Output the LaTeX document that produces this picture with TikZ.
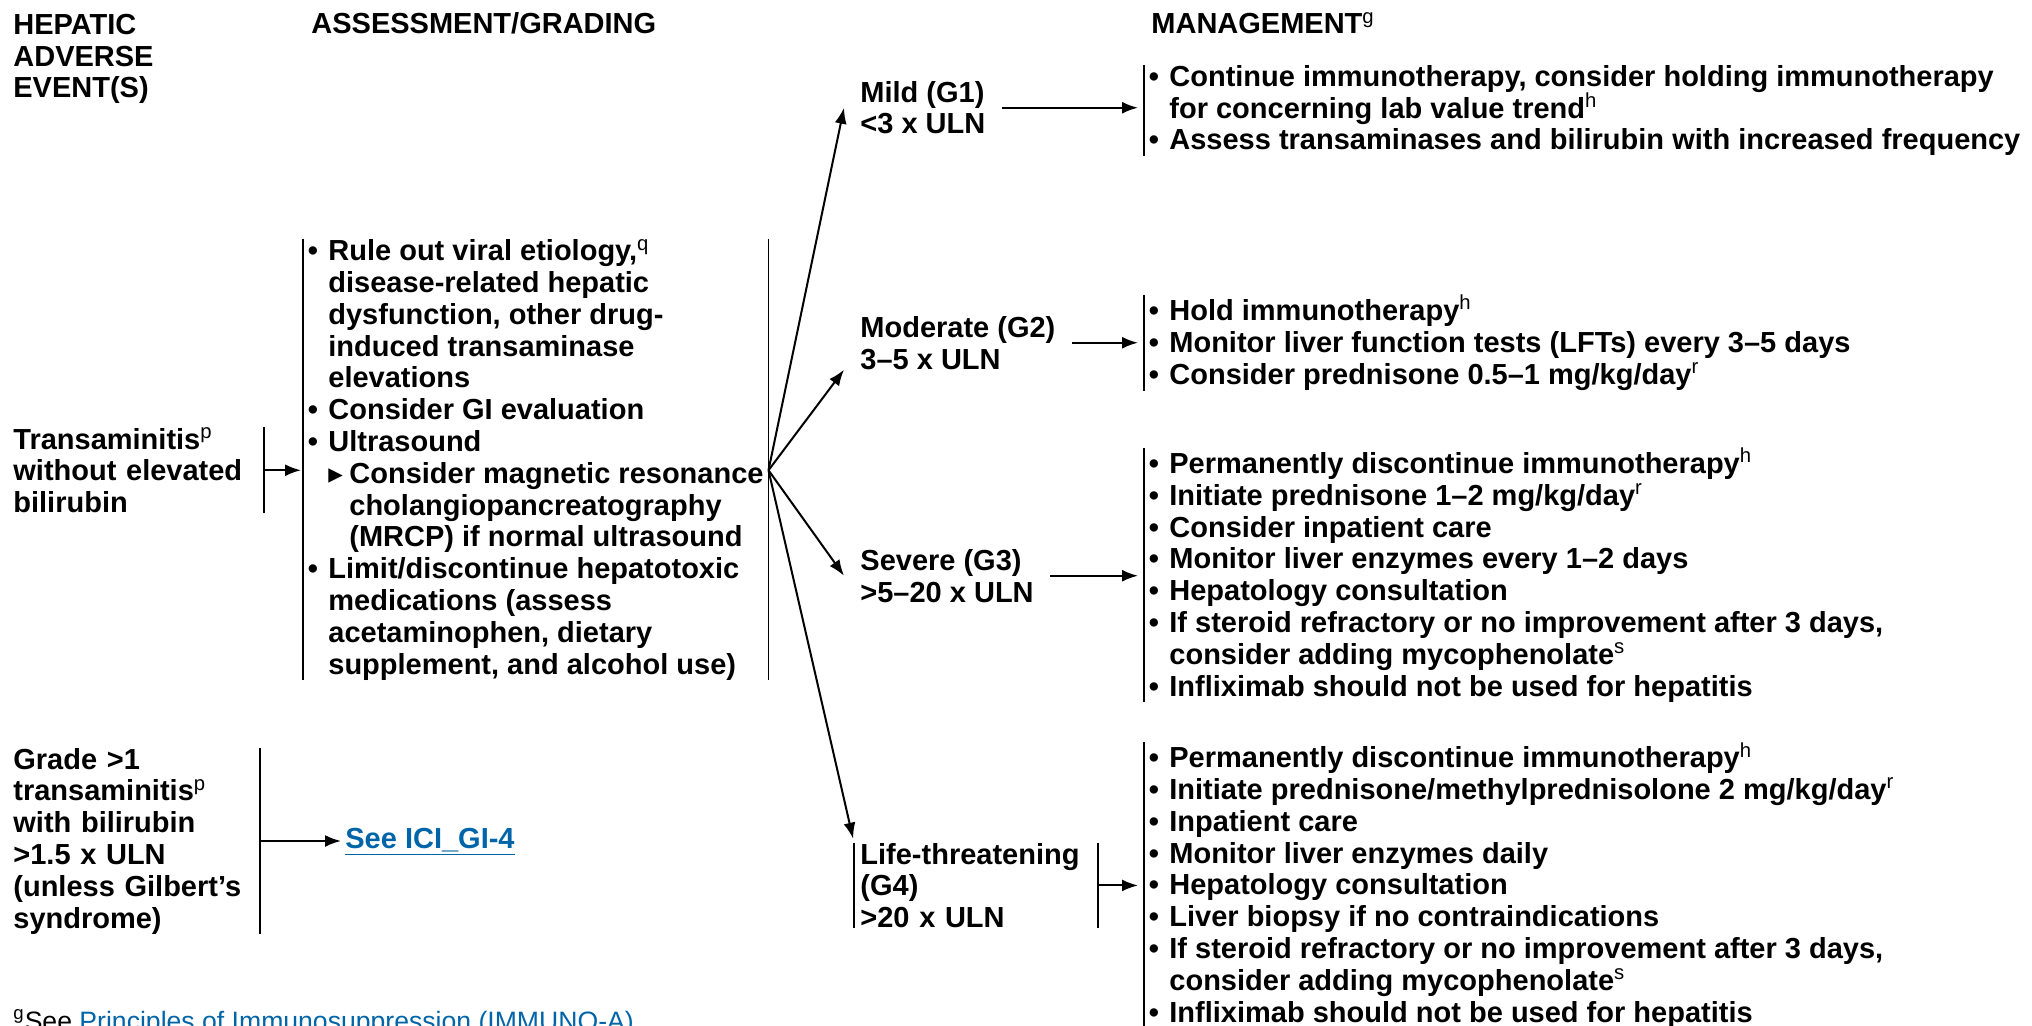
\documentclass[tikz,border=0pt]{standalone}
\usepackage{fontspec}
\setmainfont{Liberation Sans}
\newfontfamily\symfont{DejaVu Sans}
\usepackage{xcolor}
\usetikzlibrary{arrows.meta}

\definecolor{linkblue}{RGB}{0,101,168}

\newcommand{\ftn}[1]{\textsuperscript{\mdseries #1}}
\newcommand{\bl}{\makebox[10.25pt][l]{•}}
\newcommand{\ind}{\hspace*{10.25pt}}
\newcommand{\sbl}{\makebox[10.5pt][l]{\symfont ▸}}
\newcommand{\sind}{\hspace*{20.75pt}}

\tikzset{
  txt/.style={font=\fontsize{14.5}{15.9}\selectfont\bfseries, inner sep=0pt, anchor=base west, align=left},
  blk/.style={txt, text width=#1},
  arr/.style={-{Latex[length=8pt,width=6pt]}, line width=1pt},
  bar/.style={line width=0.9pt}
}

\begin{document}
\begin{tikzpicture}[x=0.5pt,y=-0.5pt]
\useasboundingbox (0,0) rectangle (2032,1026);

\node[txt] (hdrev) at (13,98) {HEPATIC\\ADVERSE\\EVENT(S)};
\node[txt] (hdras) at (311,34) {ASSESSMENT/GRADING};
\node[txt] (hdrmg) at (1151,34) {MANAGEMENT\ftn{g}};

\node[blk=125pt] (ev1) at (13,449) {Transaminitis\ftn{p}\\without elevated\\bilirubin};
\node[blk=123pt] (ev2) at (13,769) {Grade >1\\transaminitis\ftn{p}\\with bilirubin\\>1.5 x ULN\\(unless Gilbert’s\\syndrome)};

\node[txt, inner xsep=2.25pt] (asm) at (303,674) {\bl Rule out viral etiology,\ftn{q}\\
  \ind disease-related hepatic\\
  \ind dysfunction, other drug-\\
  \ind induced transaminase\\
  \ind elevations\\
  \bl Consider GI evaluation\\
  \bl Ultrasound\\
  \ind\sbl Consider magnetic resonance\\
  \sind cholangiopancreatography\\
  \sind (MRCP) if normal ultrasound\\
  \bl Limit/discontinue hepatotoxic\\
  \ind medications (assess\\
  \ind acetaminophen, dietary\\
  \ind supplement, and alcohol use)};

\node[txt, inner xsep=8pt] (g1) at (844,134) {Mild (G1)\\<3 x ULN};
\node[txt, inner xsep=8pt] (g2) at (844,369) {Moderate (G2)\\3–5 x ULN};
\node[txt, inner xsep=8pt] (g3) at (844,602) {Severe (G3)\\>5–20 x ULN};
\node[blk=115.5pt, inner xsep=3pt] (g4) at (854,864) {Life-threatening\\(G4)\\>20 x ULN};

\node[txt, inner xsep=2.25pt] (m1) at (1144,150) {\bl Continue immunotherapy, consider holding immunotherapy\\
  \ind for concerning lab value trend\ftn{h}\\
  \bl Assess transaminases and bilirubin with increased frequency};
\node[txt, inner xsep=2.25pt] (m2) at (1144,384) {\bl Hold immunotherapy\ftn{h}\\
  \bl Monitor liver function tests (LFTs) every 3–5 days\\
  \bl Consider prednisone 0.5–1 mg/kg/day\ftn{r}};
\node[txt, inner xsep=2.25pt] (m3) at (1144,696) {\bl Permanently discontinue immunotherapy\ftn{h}\\
  \bl Initiate prednisone 1–2 mg/kg/day\ftn{r}\\
  \bl Consider inpatient care\\
  \bl Monitor liver enzymes every 1–2 days\\
  \bl Hepatology consultation\\
  \bl If steroid refractory or no improvement after 3 days,\\
  \ind consider adding mycophenolate\ftn{s}\\
  \bl Infliximab should not be used for hepatitis};
\node[txt, inner xsep=2.25pt] (m4) at (1144,1022) {\bl Permanently discontinue immunotherapy\ftn{h}\\
  \bl Initiate prednisone/methylprednisolone 2 mg/kg/day\ftn{r}\\
  \bl Inpatient care\\
  \bl Monitor liver enzymes daily\\
  \bl Hepatology consultation\\
  \bl Liver biopsy if no contraindications\\
  \bl If steroid refractory or no improvement after 3 days,\\
  \ind consider adding mycophenolate\ftn{s}\\
  \bl Infliximab should not be used for hepatitis};

\node[txt, inner xsep=1pt, text=linkblue] (see) at (343,848) {\underline{See ICI\_GI-4}};
\node[txt, font=\fontsize{13.3}{16}\selectfont] (foot) at (13,1030) {\ftn{g}See \textcolor{linkblue}{Principles of Immunosuppression (IMMUNO-A)}};

\draw[bar] (ev1.north east) -- (ev1.south east);
\draw[bar] (ev2.north east) -- (ev2.south east);
\draw[bar] (asm.north west) -- (asm.south west);
\draw[bar] (asm.north east) -- (asm.south east);
\draw[bar] (g4.north west) -- (g4.south west);
\draw[bar] (g4.north east) -- (g4.south east);
\foreach \m in {m1,m2,m3,m4}
  \draw[bar] (\m.north west) -- (\m.south west);

\draw[arr, shorten >=1pt] (ev1.east) -- (ev1.east -| asm.west);
\coordinate (fan) at (asm.east |- ev1.east);
\draw[arr] (fan) -- (g1.west);
\draw[arr] (fan) -- (g2.south west);
\draw[arr] (fan) -- (g3.west);
\draw[arr, shorten >=2pt] (fan) -- (g4.north west);
\foreach \g/\m in {g1/m1,g2/m2,g3/m3,g4/m4}
  \draw[arr, shorten >=3pt] (\g.east) -- (\g.east -| \m.west);
\draw[arr, shorten >=1pt] (ev2.east) -- (ev2.east -| see.west);

\end{tikzpicture}
\end{document}
